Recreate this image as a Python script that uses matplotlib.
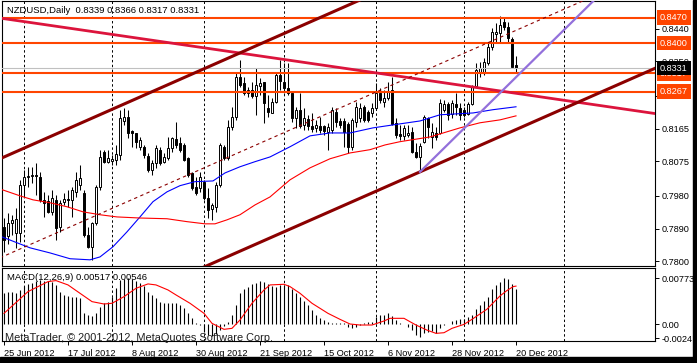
import matplotlib
matplotlib.use("Agg")
import matplotlib.pyplot as plt
import matplotlib.transforms as mtransforms
from matplotlib.patches import Rectangle

plt.rcParams['font.family'] = ['Liberation Sans', 'DejaVu Sans']

# NZDUSD daily candles, bar 0 = 25 Jun 2012
opens = [0.7895, 0.7870, 0.7906, 0.7878, 0.7878, 0.8010, 0.8032, 0.8035, 0.8038, 0.8032,
         0.7969, 0.7966, 0.7936, 0.7969, 0.7895, 0.7964, 0.7972, 0.7969, 0.7991, 0.8010,
         0.7988, 0.7873, 0.7840, 0.7906, 0.8005, 0.8101, 0.8074, 0.8076, 0.8079, 0.8093,
         0.8186, 0.8197, 0.8159, 0.8153, 0.8115, 0.8115, 0.8090, 0.8052, 0.8071, 0.8107,
         0.8074, 0.8085, 0.8112, 0.8137, 0.8126, 0.8120, 0.8085, 0.8043, 0.8005, 0.8002,
         0.8019, 0.7974, 0.7944, 0.7950, 0.8010, 0.8115, 0.8085, 0.8170, 0.8197, 0.8307,
         0.8291, 0.8263, 0.8272, 0.8255, 0.8283, 0.8294, 0.8222, 0.8208, 0.8239, 0.8313,
         0.8294, 0.8277, 0.8263, 0.8195, 0.8217, 0.8175, 0.8192, 0.8173, 0.8167, 0.8173,
         0.8173, 0.8156, 0.8162, 0.8211, 0.8186, 0.8186, 0.8178, 0.8115, 0.8184, 0.8195,
         0.8225, 0.8211, 0.8208, 0.8222, 0.8263, 0.8239, 0.8250, 0.8272, 0.8181, 0.8151,
         0.8145, 0.8148, 0.8156, 0.8101, 0.8087, 0.8129, 0.8195, 0.8142, 0.8153, 0.8153,
         0.8217, 0.8233, 0.8206, 0.8233, 0.8222, 0.8217, 0.8206, 0.8233, 0.8283, 0.8321,
         0.8318, 0.8346, 0.8390, 0.8426, 0.8428, 0.8459, 0.8445, 0.8412, 0.8339]
highs = [0.7919, 0.7933, 0.7928, 0.7947, 0.8024, 0.8052, 0.8060, 0.8060, 0.8071, 0.8046,
         0.7991, 0.7983, 0.7997, 0.7983, 0.7969, 0.7988, 0.7997, 0.8005, 0.8046, 0.8065,
         0.7997, 0.7895, 0.7909, 0.8010, 0.8107, 0.8107, 0.8107, 0.8093, 0.8120, 0.8217,
         0.8222, 0.8217, 0.8162, 0.8153, 0.8142, 0.8120, 0.8098, 0.8079, 0.8120, 0.8115,
         0.8098, 0.8142, 0.8142, 0.8184, 0.8142, 0.8126, 0.8087, 0.8046, 0.8032, 0.8046,
         0.8024, 0.8002, 0.7961, 0.8019, 0.8126, 0.8120, 0.8189, 0.8225, 0.8321, 0.8354,
         0.8307, 0.8280, 0.8294, 0.8332, 0.8305, 0.8294, 0.8258, 0.8250, 0.8321, 0.8354,
         0.8346, 0.8346, 0.8266, 0.8225, 0.8263, 0.8222, 0.8203, 0.8208, 0.8189, 0.8197,
         0.8175, 0.8181, 0.8225, 0.8222, 0.8195, 0.8195, 0.8184, 0.8195, 0.8239, 0.8236,
         0.8230, 0.8217, 0.8236, 0.8291, 0.8277, 0.8272, 0.8294, 0.8307, 0.8195, 0.8175,
         0.8175, 0.8175, 0.8170, 0.8126, 0.8126, 0.8203, 0.8197, 0.8181, 0.8170, 0.8247,
         0.8244, 0.8239, 0.8244, 0.8263, 0.8236, 0.8225, 0.8239, 0.8285, 0.8346, 0.8349,
         0.8359, 0.8404, 0.8442, 0.8456, 0.8475, 0.8472, 0.8459, 0.8417, 0.8366]
lows = [0.7826, 0.7848, 0.7873, 0.7837, 0.7854, 0.7977, 0.8005, 0.8016, 0.7983, 0.7964,
        0.7922, 0.7933, 0.7928, 0.7859, 0.7881, 0.7955, 0.7950, 0.7922, 0.7977, 0.7997,
        0.7867, 0.7837, 0.7804, 0.7900, 0.7997, 0.8071, 0.8071, 0.8065, 0.8065, 0.8079,
        0.8175, 0.8140, 0.8115, 0.8112, 0.8107, 0.8085, 0.8046, 0.8038, 0.8057, 0.8065,
        0.8071, 0.8079, 0.8101, 0.8112, 0.8101, 0.8076, 0.8032, 0.7997, 0.7983, 0.7991,
        0.7969, 0.7919, 0.7914, 0.7936, 0.8005, 0.8079, 0.8079, 0.8162, 0.8189, 0.8280,
        0.8258, 0.8252, 0.8250, 0.8203, 0.8258, 0.8181, 0.8197, 0.8208, 0.8236, 0.8272,
        0.8263, 0.8258, 0.8184, 0.8167, 0.8167, 0.8162, 0.8162, 0.8156, 0.8156, 0.8153,
        0.8148, 0.8107, 0.8153, 0.8170, 0.8167, 0.8115, 0.8098, 0.8107, 0.8170, 0.8184,
        0.8184, 0.8184, 0.8197, 0.8217, 0.8236, 0.8225, 0.8244, 0.8175, 0.8140, 0.8134,
        0.8134, 0.8142, 0.8098, 0.8085, 0.8046, 0.8126, 0.8140, 0.8112, 0.8134, 0.8151,
        0.8211, 0.8189, 0.8195, 0.8203, 0.8189, 0.8197, 0.8203, 0.8230, 0.8280, 0.8307,
        0.8313, 0.8340, 0.8382, 0.8401, 0.8404, 0.8437, 0.8401, 0.8332, 0.8317]
closes = [0.7859, 0.7906, 0.7914, 0.7917, 0.8010, 0.8032, 0.8035, 0.8038, 0.8035, 0.7969,
          0.7961, 0.7936, 0.7974, 0.7892, 0.7961, 0.7972, 0.7969, 0.7997, 0.8024, 0.8030,
          0.7873, 0.7840, 0.7906, 0.8005, 0.8087, 0.8074, 0.8085, 0.8082, 0.8096, 0.8195,
          0.8197, 0.8153, 0.8153, 0.8129, 0.8134, 0.8093, 0.8052, 0.8071, 0.8112, 0.8071,
          0.8087, 0.8112, 0.8140, 0.8120, 0.8107, 0.8079, 0.8038, 0.8002, 0.7988, 0.8032,
          0.7974, 0.7942, 0.7954, 0.8010, 0.8120, 0.8085, 0.8170, 0.8197, 0.8307, 0.8285,
          0.8263, 0.8272, 0.8255, 0.8285, 0.8291, 0.8236, 0.8211, 0.8239, 0.8313, 0.8296,
          0.8277, 0.8263, 0.8195, 0.8217, 0.8173, 0.8195, 0.8173, 0.8164, 0.8175, 0.8162,
          0.8159, 0.8170, 0.8217, 0.8184, 0.8175, 0.8156, 0.8115, 0.8189, 0.8225, 0.8222,
          0.8189, 0.8189, 0.8222, 0.8263, 0.8244, 0.8250, 0.8266, 0.8178, 0.8148, 0.8145,
          0.8167, 0.8153, 0.8101, 0.8087, 0.8117, 0.8197, 0.8170, 0.8156, 0.8142, 0.8236,
          0.8233, 0.8203, 0.8236, 0.8225, 0.8203, 0.8203, 0.8233, 0.8283, 0.8326, 0.8332,
          0.8349, 0.8390, 0.8431, 0.8431, 0.8450, 0.8445, 0.8414, 0.8335, 0.8331]

# moving averages (knots)
ma_blue_bars = [-0.5, 6.5, 11.5, 16.5, 21.5, 24, 27.25, 30.75, 34, 37.25, 40.75, 44, 47.75,
                52.25, 55.25, 59, 62.75, 66.5, 71.5, 76.5, 81.5, 86.5, 92.25, 99, 104, 109,
                117.25, 122.25, 128]
ma_blue = [0.7867, 0.7837, 0.7823, 0.7807, 0.7804, 0.7812, 0.7840, 0.7881, 0.7922, 0.7964,
           0.7991, 0.8008, 0.8019, 0.8021, 0.8043, 0.8060, 0.8074, 0.8087, 0.8115, 0.8145,
           0.8153, 0.8153, 0.8167, 0.8178, 0.8186, 0.8203, 0.8208, 0.8217, 0.8225]
ma_red_bars = [-0.5, 4, 7.25, 11.5, 15.75, 19.75, 24, 28.25, 34, 40.75, 45.75, 50.25, 52.75,
               55.75, 59, 62.75, 66.5, 71.5, 76.5, 81.5, 86.5, 91.5, 95.25, 99, 106.5, 114,
               119, 124, 128]
ma_red = [0.7997, 0.7980, 0.7969, 0.7961, 0.7950, 0.7936, 0.7928, 0.7922, 0.7919, 0.7917,
          0.7909, 0.7903, 0.7903, 0.7914, 0.7928, 0.7955, 0.7977, 0.8024, 0.8057, 0.8082,
          0.8098, 0.8107, 0.8120, 0.8129, 0.8142, 0.8167, 0.8181, 0.8189, 0.8200]

# MACD(12,26,9) histogram, one value per bar
macd_hist = [0.00519, 0.00536, 0.00536, 0.00519, 0.00575, 0.00643, 0.00677, 0.00699, 0.00733, 0.00744,
             0.00733, 0.00733, 0.00716, 0.00660, 0.00547, 0.00491, 0.00474, 0.00462, 0.00451, 0.00434,
             0.00180, 0.00152, 0.00135, 0.00180, 0.00293, 0.00350, 0.00378, 0.00462, 0.00603, 0.00744,
             0.00756, 0.00773, 0.00761, 0.00733, 0.00699, 0.00643, 0.00547, 0.00491, 0.00434, 0.00378,
             0.00361, 0.00361, 0.00361, 0.00350, 0.00321, 0.00265, 0.00180, 0.00096, 0.00023, -0.00017,
             -0.00130, -0.00186, -0.00203, -0.00169, -0.00102, -0.00034, 0.00039, 0.00152, 0.00321, 0.00519,
             0.00587, 0.00632, 0.00677, 0.00699, 0.00733, 0.00711, 0.00677, 0.00643, 0.00632, 0.00654,
             0.00660, 0.00660, 0.00587, 0.00519, 0.00462, 0.00395, 0.00321, 0.00237, 0.00152, 0.00096,
             0.00068, 0.00039, 0.00023, 0.00011, 0.00011, 0.00011, -0.00045, -0.00073, -0.00045, -0.00017,
             0.00011, 0.00039, 0.00039, 0.00124, 0.00152, 0.00152, 0.00192, 0.00135, 0.00068, 0.00011,
             0.00000, -0.00045, -0.00102, -0.00186, -0.00226, -0.00158, -0.00130, -0.00118, -0.00147, -0.00073,
             -0.00017, 0.00000, 0.00056, 0.00068, 0.00079, 0.00079, 0.00113, 0.00152, 0.00248, 0.00321,
             0.00395, 0.00462, 0.00587, 0.00660, 0.00716, 0.00773, 0.00756, 0.00677, 0.00587]
signal_bars = [0, 6, 11, 13, 16, 19, 22, 25, 27, 30, 33, 36, 38, 41, 43, 46.5, 50, 52, 55, 57,
               59, 62, 65, 66.5, 70, 71.5, 74, 77, 81, 84, 86.5, 89, 92, 95, 96.5, 100, 101.5,
               103, 105.7, 108, 110, 112, 115, 117, 120.7, 124, 125.7, 127.3, 128]
signal = [0.00180, 0.00547, 0.00716, 0.00733, 0.00660, 0.00519, 0.00378, 0.00338, 0.00350, 0.00462,
          0.00603, 0.00677, 0.00660, 0.00575, 0.00491, 0.00350, 0.00180, 0.00011, -0.00090, -0.00073,
          0.00068, 0.00350, 0.00575, 0.00660, 0.00671, 0.00632, 0.00519, 0.00350, 0.00180, 0.00079,
          0.00000, -0.00017, -0.00017, 0.00051, 0.00096, 0.00096, 0.00039, -0.00017, -0.00102, -0.00158,
          -0.00147, -0.00073, -0.00006, 0.00079, 0.00248, 0.00474, 0.00564, 0.00632, 0.00640]

# drawn objects
levels = [0.8470, 0.8400, 0.8317, 0.8267]
bid = 0.8331
fan_line = ([-1, 163], [0.8469, 0.8206])          # crimson resistance
channel_top = ([-1, 163], [0.8082, 0.8878])
channel_mid = ([-1, 163], [0.78095, 0.8605])
channel_low = ([-1, 163], [0.7537, 0.8332])
purple_line = ([104, 163], [0.8046, 0.8686])

month_bars = [5, 27, 50, 70, 93, 115, 140]
date_bars = [0, 16, 32, 48, 64, 80, 96, 112, 128]
date_labels = ['25 Jun 2012', '17 Jul 2012', '8 Aug 2012', '30 Aug 2012', '21 Sep 2012',
               '15 Oct 2012', '6 Nov 2012', '28 Nov 2012', '20 Dec 2012']
price_ticks = [0.7800, 0.7890, 0.7980, 0.8075, 0.8165, 0.8255, 0.8350, 0.8440]
macd_ticks = [0.00773, 0.0, -0.0024]
macd_labels = ['0.00773', '0.00', '-0.0024']

W, H = 697, 363
fig = plt.figure(figsize=(W / 100, H / 100), dpi=100)
fig.patch.set_facecolor('white')


def px_axes(x0, y0, x1, y1):
    return fig.add_axes([x0 / W, 1 - y1 / H, (x1 - x0) / W, (y1 - y0) / H])


ax = px_axes(2, 1, 655, 266)
axm = px_axes(2, 268, 655, 341)

for a in (ax, axm):
    a.set_xlim(-0.5, 162.75)
    for s in a.spines.values():
        s.set_color('black')
        s.set_linewidth(0.8)
    for b in month_bars:
        a.axvline(b, color='black', lw=0.7, ls=(0, (2.5, 2.5)), zorder=1)
    a.yaxis.tick_right()
    a.tick_params(axis='y', length=3, width=0.7, pad=2, labelsize=6.6, colors='black')

ax.set_ylim(0.7787, 0.8516)
ax.set_xticks([])
ax.set_yticks(price_ticks)
ax.set_yticklabels(['%.4f' % v for v in price_ticks])

# candles
idx = list(range(len(closes)))
ax.vlines(idx, lows, highs, color='black', lw=0.75, zorder=3)
for i in idx:
    o, c = opens[i], closes[i]
    lo, hi = min(o, c), max(o, c)
    ax.bar(i, max(hi - lo, 0.00003), bottom=lo, width=0.5,
           color='white' if c >= o else 'black', edgecolor='black', linewidth=0.7, zorder=4)

ax.plot(ma_blue_bars, ma_blue, color='#0000ff', lw=0.8, zorder=5)
ax.plot(ma_red_bars, ma_red, color='#ff0000', lw=0.8, zorder=5)

for lv in levels:
    ax.axhline(lv, color='#ff4500', lw=1.5, zorder=6)
ax.axhline(bid, color='#c0c0c0', lw=0.8, zorder=5)

ax.plot(*fan_line, color='#dc143c', lw=2.0, zorder=7)
ax.plot(*channel_top, color='#8b0000', lw=2.2, zorder=7)
ax.plot(*channel_low, color='#8b0000', lw=2.2, zorder=7)
ax.plot(*channel_mid, color='#8b0000', lw=0.8, ls=(0, (3, 3)), zorder=7)
ax.plot(*purple_line, color='#9370db', lw=1.6, zorder=7)

# price boxes on the right scale
trans = mtransforms.blended_transform_factory(ax.transAxes, ax.transData)
for lv in levels:
    ax.text(1 + 5 / 653, lv, '%.4f' % lv, transform=trans, ha='left', va='center',
            fontsize=6.6, color='white', clip_on=False, zorder=10,
            bbox=dict(boxstyle='square,pad=0.3', fc='#ff4500', ec='none'))
ax.text(1 + 5 / 653, bid, '%.4f' % bid, transform=trans, ha='left', va='center',
        fontsize=6.6, color='white', clip_on=False, zorder=11,
        bbox=dict(boxstyle='square,pad=0.3', fc='black', ec='none'))

ax.text(5 / 653, 1 - 10 / 265, 'NZDUSD,Daily  %.4f %.4f %.4f %.4f' % (opens[-1], highs[-1], lows[-1], closes[-1]),
        transform=ax.transAxes, ha='left', va='center', fontsize=6.8, color='black', zorder=12)

# MACD panel
axm.set_ylim(-0.00287, 0.00946)
axm.vlines(idx, 0, macd_hist, color='black', lw=0.8, zorder=3)
axm.plot(signal_bars, signal, color='#ff0000', lw=0.8, zorder=4)
axm.set_yticks(macd_ticks)
axm.set_yticklabels(macd_labels)
axm.set_xticks(date_bars)
axm.set_xticklabels(date_labels, ha='left')
axm.tick_params(axis='x', length=3, width=0.7, pad=3, labelsize=6.6, colors='black')
axm.text(5 / 653, 1 - 10 / 73, 'MACD(12,26,9) 0.00517 0.00546', transform=axm.transAxes,
         ha='left', va='center', fontsize=6.8, color='black', zorder=12)
axm.text(3 / 653, 3 / 73, 'MetaTrader, \u00a9 2001-2012, MetaQuotes Software Corp.', transform=axm.transAxes,
         ha='left', va='center', fontsize=7.9, color='#202020', zorder=12)

# window frame
fig.patches.append(Rectangle((0, 0), 1, 6 / H, transform=fig.transFigure, color='black', zorder=20))
fig.patches.append(Rectangle((693 / W, 0), 4 / W, 1, transform=fig.transFigure, color='black', zorder=20))

fig.savefig('out.png', dpi=100, facecolor='white')
